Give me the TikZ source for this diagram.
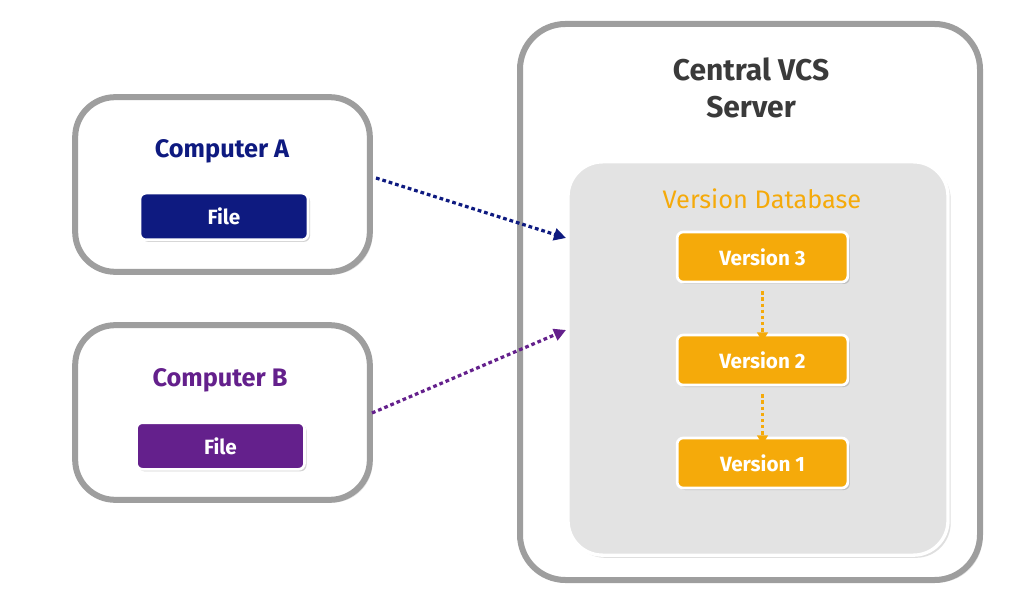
\documentclass[tikz,border=0pt]{standalone}
\usepackage{fontspec}
\setmainfont{Fira Sans}
\usepackage{tikz}
\usetikzlibrary{arrows.meta}
\usetikzlibrary{shadows}

\definecolor{frame}{RGB}{158,158,158}
\definecolor{navy}{RGB}{14,26,128}
\definecolor{grape}{RGB}{100,32,140}
\definecolor{amber}{RGB}{245,170,10}
\definecolor{dbgray}{RGB}{227,227,227}
\definecolor{ink}{RGB}{58,58,58}

\tikzset{
    machine/.style={draw=frame, line width=4.5pt, rounded corners=30pt, fill=white,
        minimum width=221pt, minimum height=131pt,
        drop shadow={opacity=0.25, shadow xshift=2pt, shadow yshift=-2pt}},
    filebox/.style={draw=white, line width=2pt, rounded corners=4.5pt, text=white,
        font=\bfseries\fontsize{15.5}{18}\selectfont,
        minimum width=126pt, minimum height=35pt,
        drop shadow={opacity=0.35, shadow xshift=1.5pt, shadow yshift=-1.5pt}},
    verbox/.style={filebox, fill=amber, minimum width=128pt, minimum height=37.5pt},
    title/.style={font=\bfseries\fontsize{19}{22}\selectfont},
    dotarrow/.style={line width=2.4pt, dash pattern=on 2.8pt off 2.2pt,
        -{Triangle[length=9pt,width=9pt]}},
    steparrow/.style={line width=1.9pt, dash pattern=on 2.6pt off 2pt, draw=amber,
        -{Triangle[length=7pt,width=8pt]}}
}

\begin{document}
\begin{tikzpicture}[x=0.75pt, y=-0.75pt]
    \useasboundingbox (0,0) rectangle (1027,609);

    % draws server and database
    \node[machine, rounded corners=34pt, minimum width=345pt, minimum height=417pt] (server) at (750,302) {};
    \node[draw=white, line width=2.5pt, fill=dbgray, rounded corners=26pt,
        minimum width=285pt, minimum height=295pt,
        drop shadow={opacity=0.25, shadow xshift=2pt, shadow yshift=-2pt}] (db) at (758,358.5) {};
    \node[title, text=ink, align=center, font=\bfseries\fontsize{22.5}{28}\selectfont] (srvtitle) at (751,88) {Central VCS\\Server};
    \node[title, font=\fontsize{19}{22}\selectfont, text=amber] (dbtitle) at (762,199) {Version Database};

    % draws versions
    \node[verbox] (v3) at (762.5,257) {Version 3};
    \node[verbox] (v2) at (762.5,360) {Version 2};
    \node[verbox] (v1) at (762.5,463) {Version 1};

    % draws computers
    \node[machine] (compA) at (222.5,184.5) {};
    \node[title, text=navy] (titleA) at (222,151) {Computer A};
    \node[filebox, fill=navy] (fileA) at (224,216.5) {File};

    \node[machine] (compB) at (222.5,412.5) {};
    \node[title, text=grape] (titleB) at (220,380) {Computer B};
    \node[filebox, fill=grape] (fileB) at (220.5,446) {File};

    % arrow ends
    \coordinate (startA) at (376,178);
    \coordinate (endA) at (566,238);
    \coordinate (startB) at (372,413);
    \coordinate (endB) at (566,330);

    % draws edges
    \draw[dotarrow, draw=navy] (startA) -- (endA);
    \draw[dotarrow, draw=grape] (startB) -- (endB);
    \draw[steparrow] (v3.south) ++(0,8) -- ([yshift=-6]v2.north);
    \draw[steparrow] (v2.south) ++(0,8) -- ([yshift=-6]v1.north);
\end{tikzpicture}
\end{document}
